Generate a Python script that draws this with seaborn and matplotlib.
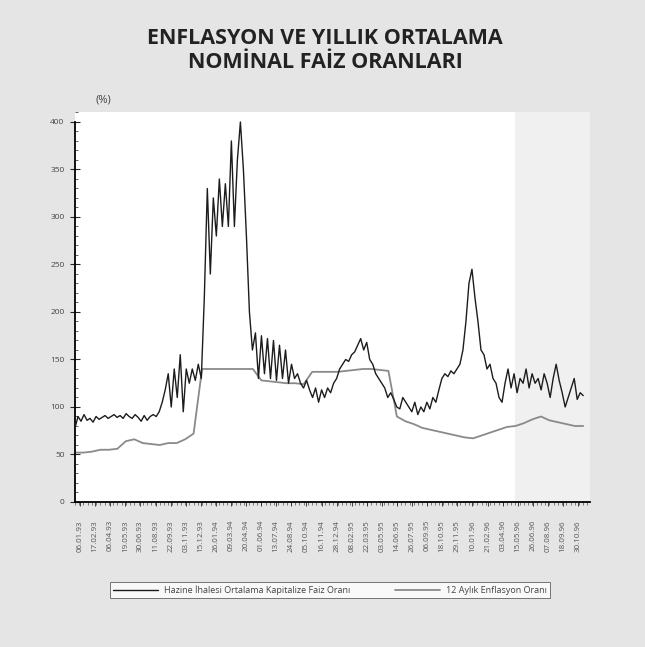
import numpy as np
import matplotlib
matplotlib.use("Agg")
import matplotlib.pyplot as plt
import seaborn as sns
from matplotlib.ticker import MultipleLocator, FixedLocator

# ---------------- data ----------------
interest_rate = [
    78, 90, 85, 92, 86, 88, 84, 90, 87, 89, 91, 88, 90, 92, 89, 91, 88, 93, 90, 88,
    92, 89, 85, 91, 86, 90, 92, 90, 95, 105, 118, 135, 100, 140, 110, 155, 95, 140, 125, 140,
    128, 145, 130, 215, 330, 240, 320, 280, 340, 290, 335, 290, 380, 290, 360, 400, 350, 280, 200, 160,
    178, 130, 175, 135, 172, 130, 170, 128, 165, 130, 160, 125, 145, 130, 135, 125, 120, 128, 118, 110,
    120, 105, 118, 110, 120, 115, 125, 130, 140, 145, 150, 148, 155, 158, 165, 172, 160, 168, 150, 145,
    135, 130, 125, 120, 110, 115, 108, 100, 98, 110, 105, 100, 95, 105, 92, 100, 95, 105, 98, 110,
    105, 118, 130, 135, 132, 138, 135, 140, 145, 160, 190, 230, 245, 215, 190, 160, 155, 140, 145, 130,
    125, 110, 105, 125, 140, 120, 135, 115, 130, 125, 140, 120, 135, 125, 130, 118, 135, 125, 110, 130,
    145, 128, 115, 100, 110, 120, 130, 108, 115, 112,
]
inflation_12m = [
    52, 52, 53, 55, 55, 56, 64, 66, 62, 61, 60, 62, 62, 66, 72, 140, 140, 140, 140, 140,
    140, 140, 128, 127, 126, 125, 125, 124, 137, 137, 137, 137, 138, 139, 140, 140, 139, 138, 90, 85,
    82, 78, 76, 74, 72, 70, 68, 67, 70, 73, 76, 79, 80, 83, 87, 90, 86, 84, 82, 80, 80,
]
date_labels = [
    "06.01.93", "17.02.93", "06.04.93", "19.05.93", "30.06.93", "11.08.93", "22.09.93",
    "03.11.93", "15.12.93", "26.01.94", "09.03.94", "20.04.94", "01.06.94", "13.07.94",
    "24.08.94", "05.10.94", "16.11.94", "28.12.94", "08.02.95", "22.03.95", "03.05.95",
    "14.06.95", "26.07.95", "06.09.95", "18.10.95", "29.11.95", "10.01.96", "21.02.96",
    "03.04.96", "15.05.96", "26.06.96", "07.08.96", "18.09.96", "30.10.96",
]
y_ticks = [0, 50, 100, 150, 200, 250, 300, 350, 400]
series_names = ["Hazine İhalesi Ortalama Kapitalize Faiz Oranı", "12 Aylık Enflasyon Oranı"]

# time axis in months
t_interest = np.linspace(0, 60, len(interest_rate))
t_inflation = np.arange(len(inflation_12m))
tick_pos = np.linspace(0.6, 59.4, len(date_labels))

# ---------------- figure ----------------
sns.set_theme(style="white")
plt.rcParams['font.family'] = ['Open Sans', 'DejaVu Sans']

fig = plt.figure(figsize=(6.45, 6.47), dpi=100, facecolor="#e5e5e5")
ax = fig.add_axes([75/645, 1-502/647, (590-75)/645, (502-112)/647])
ax.set_facecolor("white")

ax.axvspan(52, 61, color="#f0f0f0", lw=0, zorder=0)

sns.lineplot(x=t_interest, y=interest_rate, ax=ax, color="#1c1c1c", lw=1.0,
             label=series_names[0], zorder=3)
sns.lineplot(x=t_inflation, y=inflation_12m, ax=ax, color="#8a8a8a", lw=1.3,
             label=series_names[1], zorder=2)

ax.set_xlim(0, 60.8)
ax.set_ylim(0, 410.5)
ax.spines["top"].set_visible(False)
ax.spines["right"].set_visible(False)
ax.spines["left"].set_bounds(0, 400)
for s in ("left", "bottom"):
    ax.spines[s].set_color("black")
    ax.spines[s].set_linewidth(1.3)

ax.yaxis.set_major_locator(FixedLocator(y_ticks))
ax.yaxis.set_minor_locator(MultipleLocator(10))
ax.set_yticklabels([str(v) for v in y_ticks], fontsize=6, color="#444444")
ax.tick_params(axis="y", which="major", direction="inout", length=7, width=0.8, pad=4, left=True)
ax.tick_params(axis="y", which="minor", direction="in", length=2.5, width=0.5, left=True)

ax.set_xticks(tick_pos)
ax.set_xticklabels(date_labels, rotation=90, fontsize=5.8, color="#555555")
ax.xaxis.set_minor_locator(MultipleLocator(0.5))
ax.tick_params(axis="x", which="major", direction="out", length=3, width=0.6, pad=10, bottom=True)
ax.tick_params(axis="x", which="minor", direction="out", length=2, width=0.4, bottom=True)
ax.set_xlabel("")
ax.set_ylabel("")

ax.get_legend().remove()
handles, labels = ax.get_legend_handles_labels()
leg = fig.legend(handles, labels, loc="center", bbox_to_anchor=(330/645, 1-590/647),
                 ncol=2, fontsize=6.5, frameon=True, fancybox=False, handlelength=5,
                 columnspacing=5, borderpad=0.35, handletextpad=0.6, borderaxespad=0)
leg.get_frame().set_edgecolor("#555555")
leg.get_frame().set_linewidth(0.7)
leg.get_frame().set_facecolor("white")
for txt in leg.get_texts():
    txt.set_color("#444444")

fig.text(325/645, 1-38/647, "ENFLASYON VE YILLIK ORTALAMA", ha="center", va="center",
         fontsize=15.5, fontweight="bold", color="#222222")
fig.text(325/645, 1-63/647, "NOMİNAL FAİZ ORANLARI", ha="center", va="center",
         fontsize=15.5, fontweight="bold", color="#222222")
fig.text(103/645, 1-100/647, "(%)", ha="center", va="center", fontsize=8, color="#444444")

fig.savefig("out.png", dpi=100, facecolor=fig.get_facecolor())
